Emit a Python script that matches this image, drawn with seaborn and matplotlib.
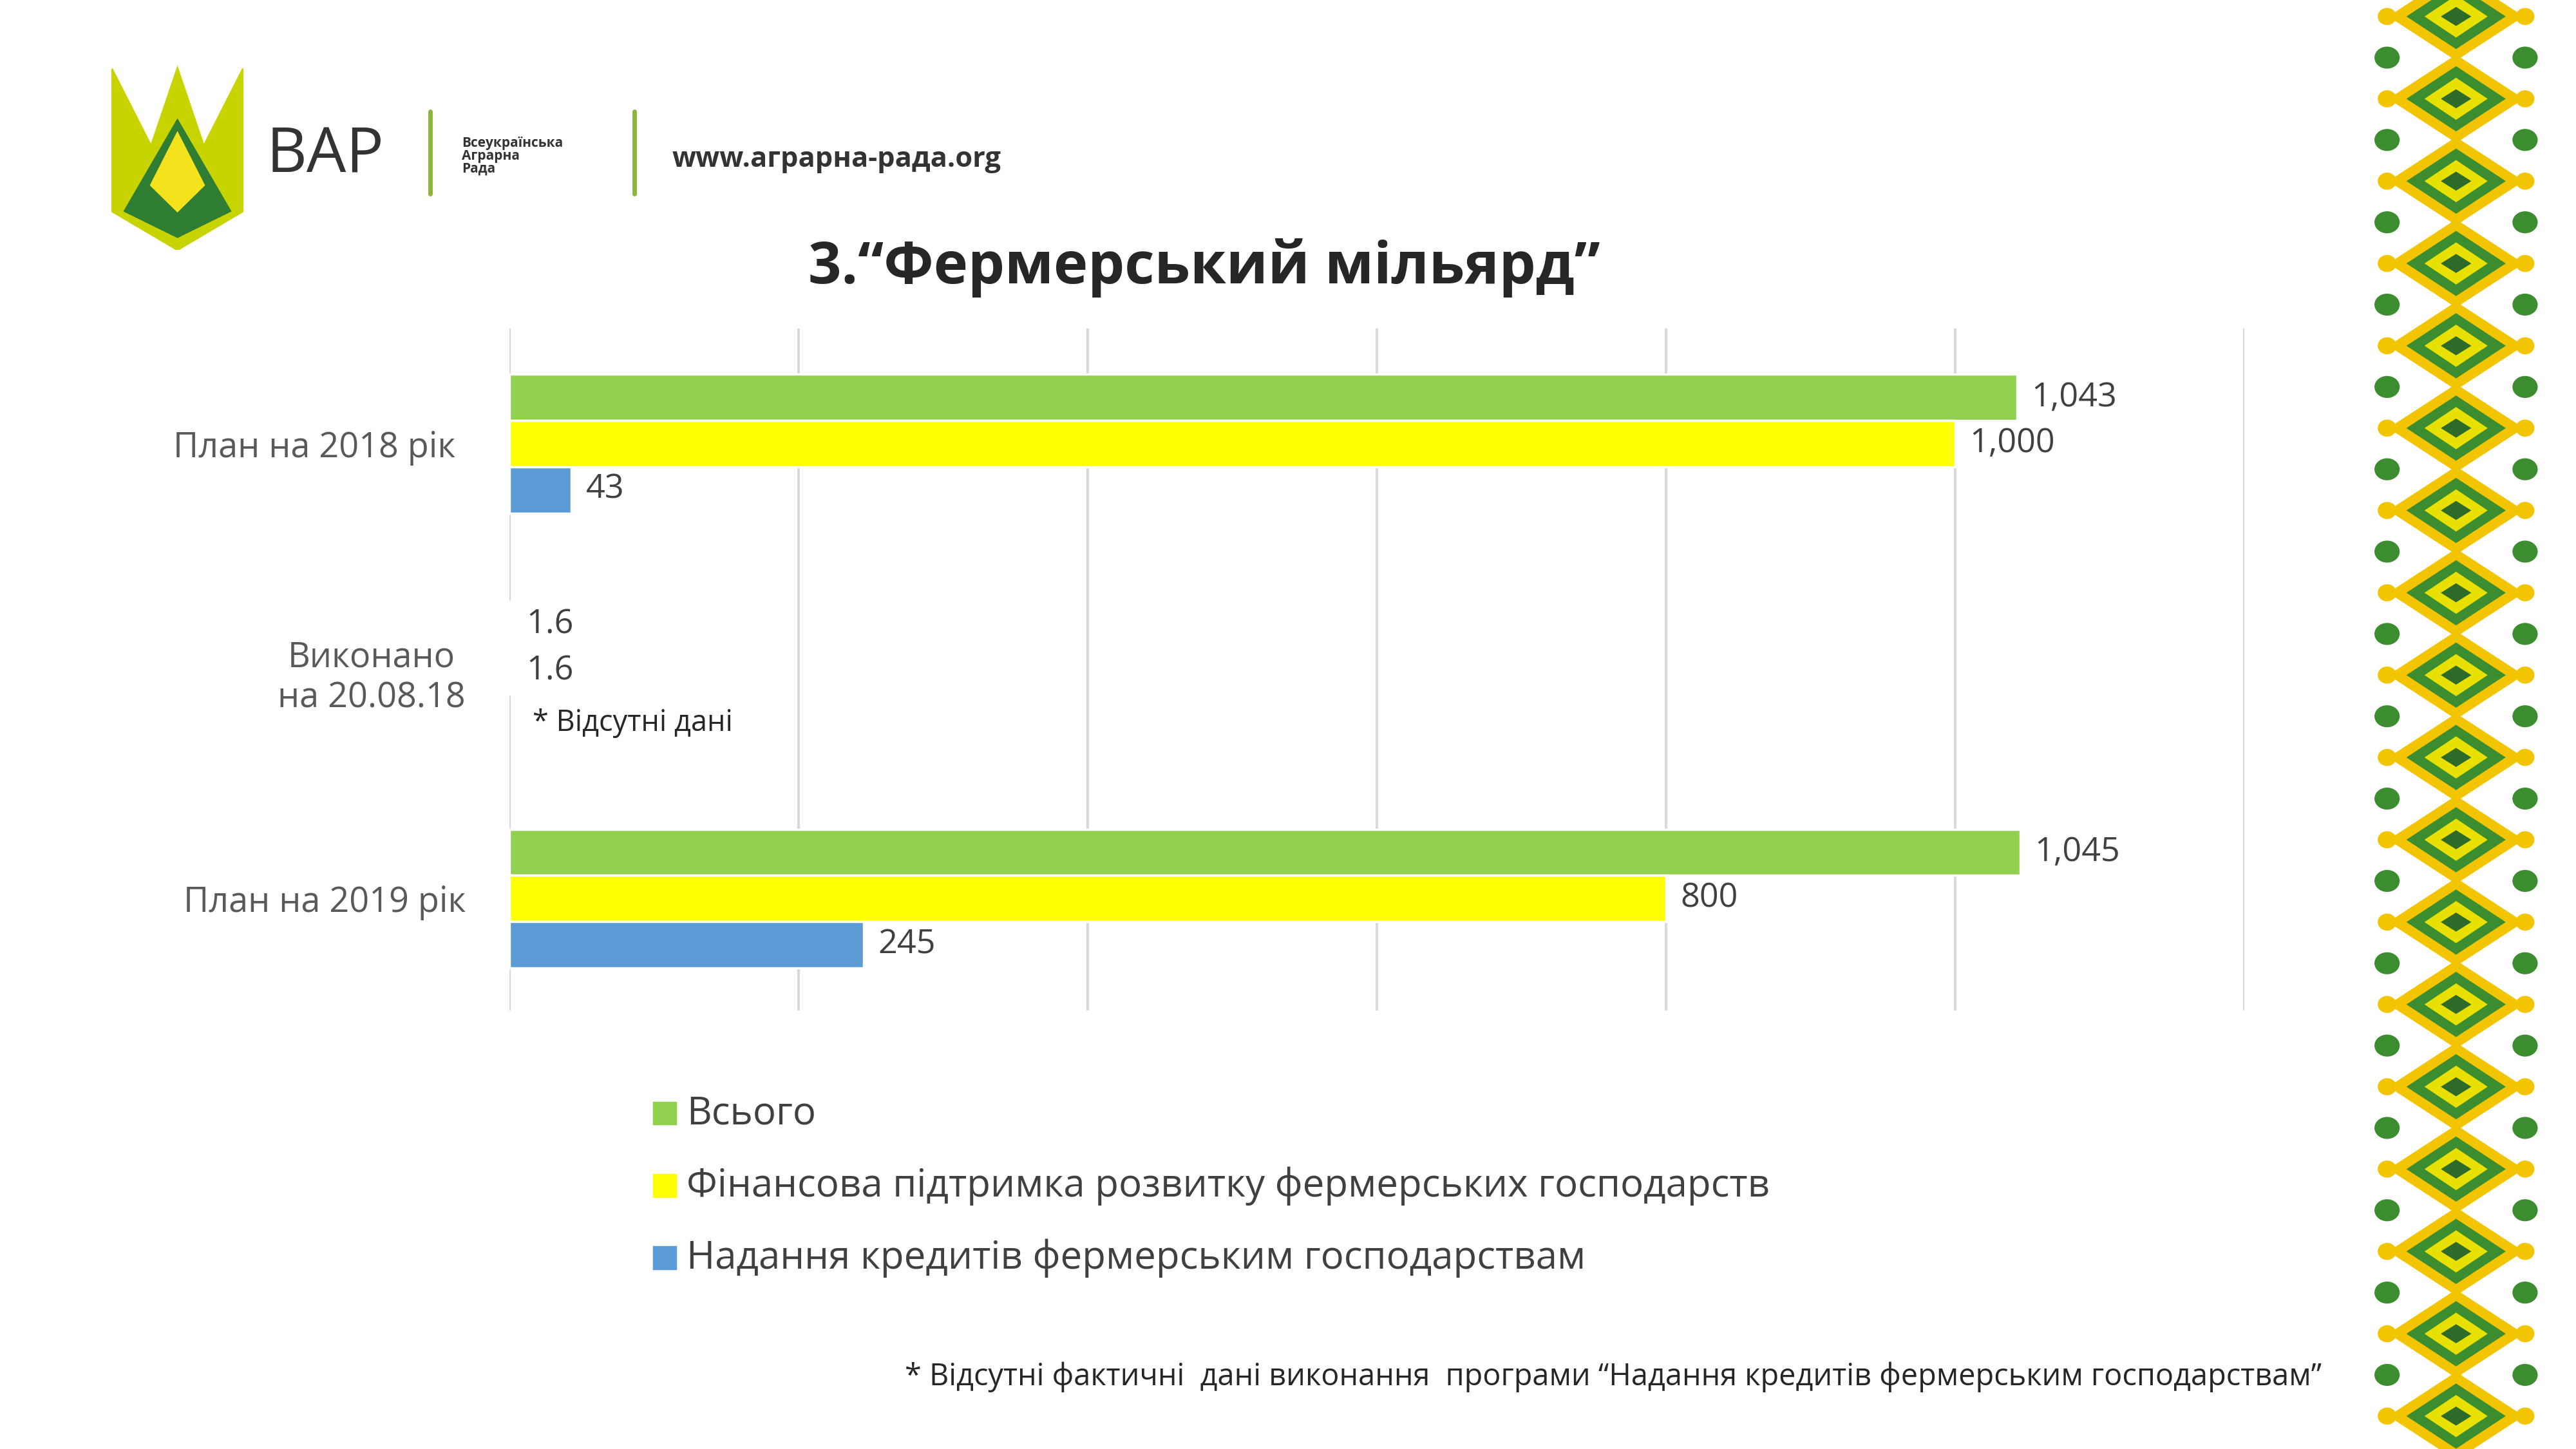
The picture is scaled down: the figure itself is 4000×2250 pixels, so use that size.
import numpy as np
import pandas as pd
import matplotlib.pyplot as plt
import matplotlib.patches as mpatches
import seaborn as sns

sns.set_style("white")
plt.rcParams['font.family'] = ['Open Sans', 'DejaVu Sans']

categories = ['План на 2018 рік', 'Виконано\nна 20.08.18', 'План на 2019 рік']
series = ['Всього', 'Фінансова підтримка розвитку фермерських господарств',
          'Надання кредитів фермерським господарствам']
total = [1043, 1.6, 1045]
finance = [1000, 1.6, 800]
credits = [43, np.nan, 245]
labels_total = ['1,043', '1.6', '1,045']
labels_finance = ['1,000', '1.6', '800']
labels_credits = ['43', '', '245']
colors = ['#92D050', '#FFFF00', '#5B9BD5']

rows = []
for vals, s in zip([total, finance, credits], series):
    for c, v in zip(categories, vals):
        rows.append({'cat': c, 'series': s, 'value': v})
df = pd.DataFrame(rows)

W, H = 1568, 882
unit = 138.5
fig = plt.figure(figsize=(16, 9), dpi=250)
ax = fig.add_axes([310 / W, 1 - 615 / H, (1366 - 310) / W, 415 / H])
sns.barplot(data=df, y='cat', x='value', hue='series', palette=colors,
            orient='h', width=0.61, ax=ax, legend=False, saturation=1)
ax.set_xlim(0, 1200)
ax.set_ylim(2 + 68 / unit, -70 / unit)
ax.set_xticks(np.arange(0, 1201, 200))
ax.set_xticklabels([])
ax.grid(axis='x', color='#D9D9D9', linewidth=1.2)
ax.set_axisbelow(True)
for s in ax.spines.values():
    s.set_visible(False)
ax.set_xlabel('')
ax.set_ylabel('')
ax.tick_params(axis='y', length=0, pad=22, labelsize=15.5, labelcolor='#595959')
for t, xc in zip(ax.get_yticklabels(), [-0.084, -0.051, -0.078]):
    t.set_horizontalalignment('center')
    t.set_x(xc)

# value labels
offsets = [-0.203, 0.0, 0.203]
for vals, labs, off in zip([total, finance, credits],
                           [labels_total, labels_finance, labels_credits], offsets):
    for i, (v, lab) in enumerate(zip(vals, labs)):
        if lab:
            ax.text(v + 10, i + off, lab, fontsize=15, color='#404040', va='center')

ax.text(16, 1 + 0.23, '* Відсутні дані', fontsize=13, color='#262626', va='center')

# legend
for i, (s, c) in enumerate(zip(series, colors)):
    y = 1 - (678 + 44 * i) / H
    fig.patches.append(mpatches.Rectangle((398 / W, y - 0.007), 0.0085, 0.015,
                                          color=c, transform=fig.transFigure))
    fig.text(418 / W, y, s, fontsize=17.3, color='#404040', va='center')

fig.text(733 / W, 1 - 163 / H, '3.“Фермерський мільярд”', fontsize=26,
         fontweight='bold', ha='center', va='center')
fig.text(1413 / W, 1 - 838 / H,
         '* Відсутні фактичні  дані виконання  програми “Надання кредитів фермерським господарствам”',
         fontsize=13.5, ha='right', va='center')

# logo
lg = fig.add_axes([68 / W, 1 - 152 / H, 80 / W, 118 / H])
lg.set_xlim(0, 10)
lg.set_ylim(0, 15)
lg.axis('off')
lg.add_patch(mpatches.Polygon([[0, 14], [0, 3], [5, 0], [10, 3], [10, 14], [7, 8], [5, 14], [3, 8]],
                              color='#C8D400'))
lg.add_patch(mpatches.Polygon([[1, 3], [5, 10], [9, 3], [5, 1]], color='#2E7D32'))
lg.add_patch(mpatches.Polygon([[3, 5], [5, 9], [7, 5], [5, 3]], color='#F4E21C'))
fig.text(162 / W, 1 - 95 / H, 'ВАР', fontsize=28, color='#333333', va='center')
fig.add_artist(plt.Line2D([262 / W, 262 / W], [1 - 68 / H, 1 - 118 / H], color='#8DB63C', lw=2))
fig.text(281 / W, 1 - 95 / H, 'Всеукраїнська\nАграрна\nРада', fontsize=6,
         color='#333333', va='center', linespacing=0.9, fontweight='bold')
fig.add_artist(plt.Line2D([386 / W, 386 / W], [1 - 68 / H, 1 - 118 / H], color='#8DB63C', lw=2))
fig.text(409 / W, 1 - 97 / H, 'www.аграрна-рада.org', fontsize=12.5,
         color='#333333', va='center', fontweight='bold')

# ornament strip
orn = fig.add_axes([1445 / W, 0, 100 / W, 1])
orn.set_xlim(0, 10)
orn.set_ylim(0, 88)
orn.axis('off')
for k in range(18):
    cy = 2 + k * 5
    orn.add_patch(mpatches.Polygon([[5, cy - 2.6], [9, cy], [5, cy + 2.6], [1, cy]], color='#F2C500'))
    orn.add_patch(mpatches.Polygon([[5, cy - 1.9], [7.9, cy], [5, cy + 1.9], [2.1, cy]], color='#3C8D2F'))
    orn.add_patch(mpatches.Polygon([[5, cy - 1.2], [6.8, cy], [5, cy + 1.2], [3.2, cy]], color='#E8E000'))
    orn.add_patch(mpatches.Polygon([[5, cy - 0.5], [5.8, cy], [5, cy + 0.5], [4.2, cy]], color='#2E6B2A'))
    for sx in (0.8, 9.2):
        orn.add_patch(mpatches.Ellipse((sx, cy + 2.5), 1.4, 1.2, color='#3C8D2F'))
        orn.add_patch(mpatches.Ellipse((sx, cy), 1.0, 0.9, color='#F2C500'))

fig.savefig('out.png', dpi=250)
